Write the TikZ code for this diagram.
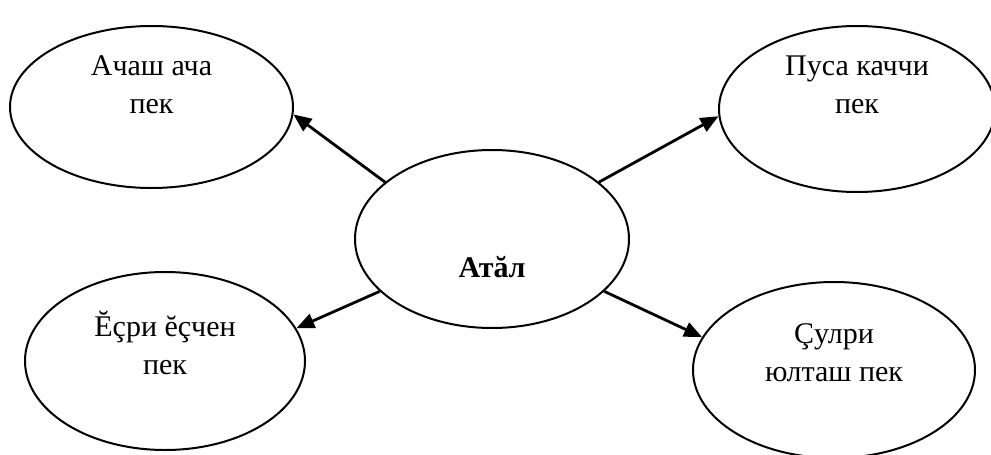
\documentclass[tikz,border=0pt]{standalone}
\usepackage{fontspec}
\setmainfont{Liberation Serif}
\usetikzlibrary{shapes}
\usetikzlibrary{arrows.meta,positioning}
\tikzset{idea node/.style={ellipse, draw=black, line width=2pt, fill=white, inner sep=0pt}}
\tikzset{idea text/.style={align=center, font=\fontsize{30}{38.5}\selectfont}}
\tikzset{link edge/.style={draw=black, line width=2.8pt, -{Triangle[length=18pt,width=15pt]}}}

\begin{document}
\begin{tikzpicture}
          [x=1pt, y=-1pt]
          \useasboundingbox (0,0) rectangle (991,455);
          \node [idea node, minimum width=274pt, minimum height=178pt,
                 label={[idea text, font=\fontsize{30}{38.5}\selectfont\bfseries, yshift=-27.7pt]center:Атăл}]
                 (hub)   at (492,239) {};
          \node [idea node, minimum width=283pt, minimum height=162pt,
                 label={[idea text, yshift=22.5pt]center:{Ачаш ача\\пек}}]
                 (leaf0) at (151.5,107) {};
          \node [idea node, minimum width=276pt, minimum height=166pt,
                 label={[idea text, yshift=24pt]center:{Пуса каччи\\пек}}]
                 (leaf1) at (857,109) {};
          \node [idea node, minimum width=280pt, minimum height=178pt,
                 label={[idea text, yshift=18pt]center:{Ĕçри ĕçчен\\пек}}]
                 (leaf2) at (165,361) {};
          \node [idea node, minimum width=282pt, minimum height=176pt,
                 label={[idea text, yshift=17.5pt]center:{Çулри\\юлташ пек}}]
                 (leaf3) at (834,370) {};

          \draw [link edge] (hub.152.6) to (leaf0.-3);
          \draw [link edge] (hub.28)    to (leaf1.183);
          \draw [link edge] (hub.205.7) to (leaf2.14.5);
          \draw [link edge] (hub.-25.5) to (leaf3.166);
        \end{tikzpicture}
\end{document}
